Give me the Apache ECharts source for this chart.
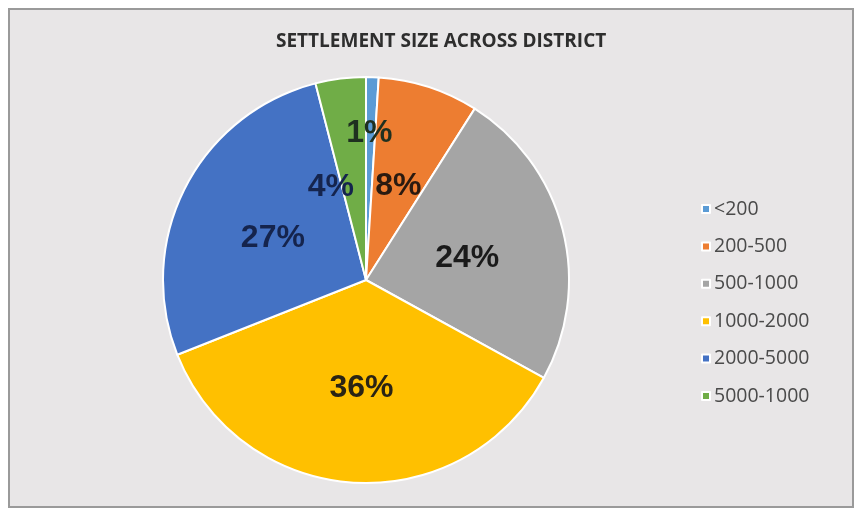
<!DOCTYPE html>
<html>
<head>
<meta charset="utf-8">
<script src="https://cdn.jsdelivr.net/npm/echarts@6/dist/echarts.min.js"></script>
<style>
  html, body { margin: 0; padding: 0; background: #ffffff; }
  #chart { width: 855px; height: 509px; }
</style>
</head>
<body>
<div id="chart"></div>
<script>
// Settlement size classes and their share of settlements (percent)
const categories = ['<200', '200-500', '500-1000', '1000-2000', '2000-5000', '5000-1000'];
const shares = [1, 8, 24, 36, 27, 4];

// Slice palette and label ink
const sliceColors = ['#5B9BD5', '#ED7D31', '#A5A5A5', '#FFC000', '#4472C4', '#70AD47'];
const labelInk = ['#1f3020', '#2a1a10', '#1a1a1a', '#2a2414', '#15244d', '#15244d'];
// Nudges for the crowded small-slice labels
const labelOffsets = [[0, -42], [0, 6], [0, 4], [2, 4], [0, 6], [-22, 11]];

const chart = echarts.init(document.getElementById('chart'), null, { renderer: 'canvas' });

const pieData = categories.map((name, i) => ({
  name: name,
  value: shares[i],
  itemStyle: { color: sliceColors[i] },
  label: { color: labelInk[i], offset: labelOffsets[i] }
}));

chart.setOption({
  backgroundColor: '#ffffff',
  animation: false,
  graphic: [{
    type: 'rect',
    left: 8, top: 8, z: -10,
    shape: { width: 844, height: 498 },
    style: { fill: '#E8E6E7', stroke: '#9a9a9a', lineWidth: 2 },
    silent: true
  }],
  title: {
    text: 'SETTLEMENT SIZE ACROSS DISTRICT',
    left: 271, top: 27,
    textStyle: { fontFamily: 'Open Sans', fontWeight: 'bold', fontSize: 19, color: '#2e2e2e' }
  },
  legend: {
    orient: 'vertical',
    left: 696, top: 194,
    icon: 'rect',
    itemWidth: 8, itemHeight: 8,
    itemGap: 17.4,
    data: categories,
    textStyle: { fontFamily: 'Open Sans', fontSize: 19.5, color: '#4a4a4a', lineHeight: 20, padding: [0, 0, 0, -1] }
  },
  series: [{
    type: 'pie',
    center: [366, 280],
    radius: [0, 203],
    startAngle: 90,
    clockwise: true,
    avoidLabelOverlap: false,
    itemStyle: { borderColor: '#ffffff', borderWidth: 2 },
    label: {
      show: true,
      position: 'inside',
      formatter: '{c}%',
      fontFamily: 'Liberation Sans',
      fontWeight: 'bold',
      fontSize: 32
    },
    labelLine: { show: false },
    emphasis: { disabled: true },
    data: pieData
  }]
});
</script>
</body>
</html>
